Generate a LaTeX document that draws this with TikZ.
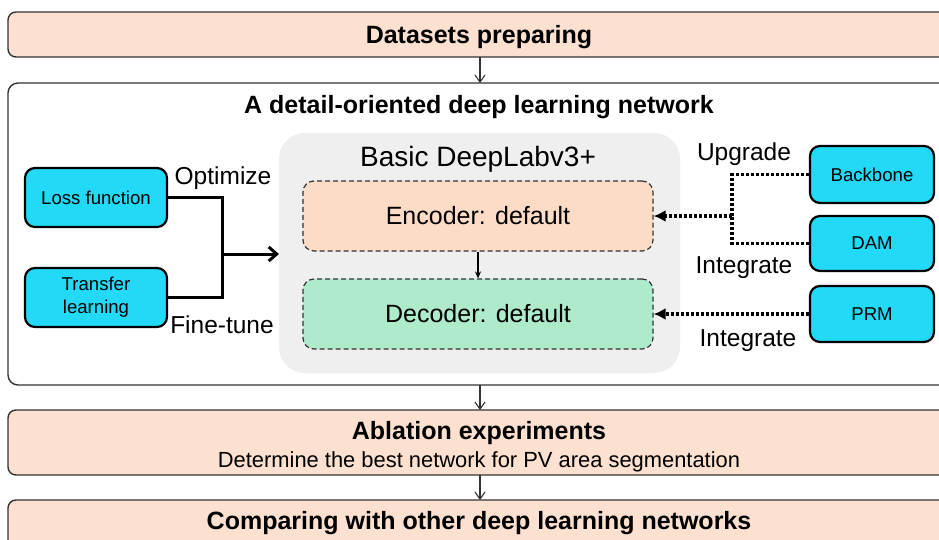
\documentclass[tikz,border=0pt]{standalone}
\usepackage{fontspec}
\setmainfont{Liberation Sans}
\usetikzlibrary{arrows.meta}
\definecolor{peach}{HTML}{FCE0D0}
\definecolor{encfill}{HTML}{FDDCC5}
\definecolor{decfill}{HTML}{AEEBCB}
\definecolor{cyanbox}{HTML}{22D9F8}
\definecolor{panel}{HTML}{EFEFEF}
\definecolor{edge}{HTML}{333333}
\tikzset{
  stage/.style={draw=edge, line width=1.4pt, fill=peach, rounded corners=8pt},
  flow/.style={draw=edge, line width=1.1pt, -{Straight Barb[length=7pt,width=10pt]}},
  module/.style={draw=black, line width=2.2pt, fill=cyanbox, rounded corners=10pt,
    minimum width=142pt, minimum height=59pt, align=center,
    font=\fontsize{18.6}{23}\selectfont},
  part/.style={draw=edge, line width=1.2pt, dash pattern=on 5pt off 3pt, rounded corners=11pt,
    minimum width=350pt, minimum height=70pt, font=\fontsize{25}{30}\selectfont},
  feed/.style={line width=3pt},
  dotlink/.style={line width=3.2pt, dash pattern=on 3pt off 2pt},
  dottip/.style={-{Latex[length=12pt,width=12pt]}},
  lbl/.style={font=\fontsize{24.5}{29}\selectfont},
  headfont/.style={font=\fontsize{25}{30}\selectfont\bfseries},
}
\begin{document}
\begin{tikzpicture}[x=1pt,y=-1pt]
\useasboundingbox (0,0) rectangle (939,539);
\clip (0,0) rectangle (939,539);

% stages of the workflow
\draw[stage] (8,12) rectangle (950,57);
\node[headfont] (prep) at (479,37) {Datasets preparing};

\draw[draw=edge, line width=1.4pt, fill=white, rounded corners=10pt] (8,83) rectangle (950,385);
\node[headfont] (nettitle) at (479,107) {A detail-oriented deep learning network};

\draw[stage] (8,410) rectangle (950,475);
\node[headfont] (abl) at (479,433) {Ablation experiments};
\node[font=\fontsize{21.9}{26}\selectfont] (ablsub) at (479,462) {Determine the best network for PV area segmentation};

\draw[stage] (8,500) rectangle (950,560);
\node[headfont] (cmp) at (479,523) {Comparing with other deep learning networks};

\coordinate (s1b) at (480,57);
\coordinate (s2t) at (480,83);
\coordinate (s2b) at (480,385);
\coordinate (s3t) at (480,410);
\coordinate (s3b) at (480,475);
\coordinate (s4t) at (480,500);
\draw[flow] (s1b) -- (s2t);
\draw[flow] (s2b) -- (s3t);
\draw[flow] (s3b) -- (s4t);

% DeepLabv3+ panel
\fill[panel, rounded corners=26pt] (279,133) rectangle (680,373);
\node[font=\fontsize{28}{33}\selectfont] (basic) at (478,159) {Basic DeepLabv3+};
\node[part, fill=encfill] (enc) at (478,216) {Encoder: default};
\node[part, fill=decfill] (dec) at (478,314) {Decoder: default};
\draw[line width=1.3pt, -{Stealth[length=7pt,width=6pt]}] (enc.south) -- (dec.north);

% training options on the left
\node[module] (loss) at (96,197.5) {Loss function};
\node[module] (transfer) at (96,297.5) {Transfer\\learning};
\coordinate (join) at (222,254);
\coordinate (panelin) at (279,254);
\draw[feed] (loss.east) -| (join);
\draw[feed] (transfer.east) -| (join);
\draw[feed, -{Straight Barb[length=8pt,width=14pt]}] (join) -- (panelin);
\node[lbl] (opt) at (223,178) {Optimize};
\node[lbl] (ft) at (222,325) {Fine-tune};

% modules on the right
\node[module, minimum width=124pt, minimum height=57pt] (backbone) at (872,174.5) {Backbone};
\node[module, minimum width=124pt, minimum height=55pt] (dam) at (872,243.5) {DAM};
\node[module, minimum width=124pt, minimum height=56pt] (prm) at (872,314) {PRM};
\coordinate (merge) at (732,216);
\draw[dotlink] (backbone.west) -| (merge);
\draw[dotlink] (dam.west) -| (merge);
\draw[dotlink, dottip] (merge) -- (enc.east);
\draw[dotlink, dottip] (prm.west) -- (dec.east);
\node[lbl] (upg) at (744,154) {Upgrade};
\node[lbl] (int1) at (744,268) {Integrate};
\node[lbl] (int2) at (748,341) {Integrate};
\end{tikzpicture}
\end{document}
